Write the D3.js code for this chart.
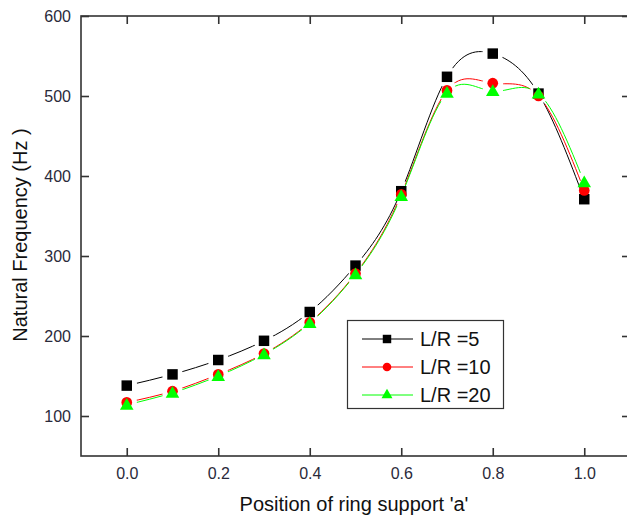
<!DOCTYPE html>
<html><head><meta charset="utf-8">
<script src="https://cdn.jsdelivr.net/npm/d3@7"></script>
<style>body{margin:0;background:#fff}svg{display:block;font-family:"Liberation Sans",Arial,sans-serif}</style>
</head><body><svg id="c" width="627" height="519"></svg>
<script>
const positions = [0.0,0.1,0.2,0.3,0.4,0.5,0.6,0.7,0.8,0.9,1.0];
const lr5  = [138,152,170,194,230,288,381,524,553,503,371];
const lr10 = [117,131,152,178,217,278,377,507,516,500,382];
const lr20 = [114,129,150,177,216,277,375,504,506,503,392];
const seriesNames = ["L/R =5","L/R =10","L/R =20"];
const seriesColors = ["#000000","#ff0000","#00ff00"];
const seriesShapes = ["square","circle","triangle"];
const xTicks = [0.0,0.2,0.4,0.6,0.8,1.0];
const yTicks = [100,200,300,400,500,600];

const svg = d3.select("#c");
const L=81, T=16, R=630, B=456;
const x = d3.scaleLinear().domain([-0.1,1.1]).range([L,R]);
const y = d3.scaleLinear().domain([50,600]).range([B,T]);

const allSeries = [lr5,lr10,lr20].map((v,i)=>({name:seriesNames[i],color:seriesColors[i],shape:seriesShapes[i],pts:positions.map((p,j)=>[p,v[j]])}));

const symType = {square:d3.symbolSquare,circle:d3.symbolCircle,triangle:d3.symbolTriangle};
const symSize = {square:110,circle:90,triangle:80};

const defs = svg.append("defs");
allSeries.forEach((s,i)=>{
  const m = defs.append("mask").attr("id","m"+i).attr("maskUnits","userSpaceOnUse")
    .attr("x",0).attr("y",0).attr("width",627).attr("height",519);
  m.append("rect").attr("width",627).attr("height",519).attr("fill","#fff");
  m.selectAll("circle").data(s.pts).join("circle")
    .attr("cx",d=>x(d[0])).attr("cy",d=>y(d[1])).attr("r",10.5).attr("fill","#000");
});

const line = d3.line().x(d=>x(d[0])).y(d=>y(d[1])).curve(d3.curveNatural);
allSeries.forEach((s,i)=>{
  svg.append("path").attr("d",line(s.pts)).attr("fill","none")
    .attr("stroke",s.color).attr("stroke-width",1).attr("mask","url(#m"+i+")");
});
allSeries.forEach((s)=>{
  svg.append("g").selectAll("path").data(s.pts).join("path")
    .attr("transform",d=>`translate(${x(d[0])},${y(d[1]) + (s.shape==="triangle"?1:0)})`)
    .attr("d",d3.symbol().type(symType[s.shape]).size(symSize[s.shape]))
    .attr("fill",s.color);
});

// frame
const ax = svg.append("g").attr("stroke","#333").attr("stroke-width",1.6).attr("fill","none");
ax.append("rect").attr("x",L).attr("y",T).attr("width",R-L).attr("height",B-T);

// axes with inward ticks
const xb = svg.append("g").attr("transform",`translate(0,${B})`)
  .call(d3.axisBottom(x).tickValues(xTicks).tickFormat(d3.format(".1f")).tickSizeInner(-8).tickSizeOuter(0).tickPadding(12));
const xt = svg.append("g").attr("transform",`translate(0,${T})`)
  .call(d3.axisTop(x).tickValues(xTicks).tickFormat("").tickSizeInner(-8).tickSizeOuter(0));
const yl = svg.append("g").attr("transform",`translate(${L},0)`)
  .call(d3.axisLeft(y).tickValues(yTicks).tickSizeInner(-8).tickSizeOuter(0).tickPadding(10));
const yr = svg.append("g").attr("transform",`translate(${R},0)`)
  .call(d3.axisRight(y).tickValues(yTicks).tickFormat("").tickSizeInner(-8).tickSizeOuter(0));
[xb,xt,yl,yr].forEach(g=>{
  g.select(".domain").remove();
  g.selectAll("line").attr("stroke","#333").attr("stroke-width",1.6);
  g.selectAll("text").attr("fill","#2a2a3a").style("font-size","16px").style("font-family","Liberation Sans, Arial, sans-serif");
});

svg.append("text").attr("x",354).attr("y",511).attr("text-anchor","middle")
  .style("font-size","20px").attr("fill","#111").text("Position of ring support 'a'");
svg.append("text").attr("transform","translate(27,235) rotate(-90)").attr("text-anchor","middle")
  .style("font-size","20px").attr("fill","#111").text("Natural Frequency (Hz )");

// legend
const lg = svg.append("g");
lg.append("rect").attr("x",347.5).attr("y",320.5).attr("width",156).attr("height",88)
  .attr("fill","#fff").attr("stroke","#333").attr("stroke-width",1.2);
allSeries.forEach((s,i)=>{
  const cy = 339 + i*28;
  lg.append("line").attr("x1",362).attr("x2",413).attr("y1",cy).attr("y2",cy).attr("stroke",s.color).attr("stroke-width",1);
  lg.append("path").attr("transform",`translate(387,${cy})`)
    .attr("d",d3.symbol().type(symType[s.shape]).size(symSize[s.shape]*0.65)).attr("fill",s.color);
  lg.append("text").attr("x",420).attr("y",cy+7).style("font-size","20px").attr("fill","#111").text(s.name);
});
</script></body></html>
